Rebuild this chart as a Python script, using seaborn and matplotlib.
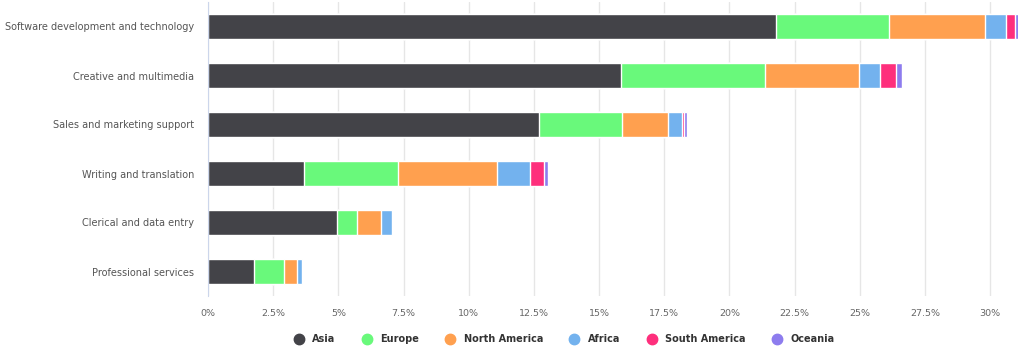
import numpy as np
import pandas as pd
import seaborn as sns
import matplotlib.pyplot as plt
from matplotlib.lines import Line2D
from matplotlib.ticker import FixedLocator

## data (share of workers, %)
categories = ["Software development and technology", "Creative and multimedia",
              "Sales and marketing support", "Writing and translation",
              "Clerical and data entry", "Professional services"]
regions = ["Asia", "Europe", "North America", "Africa", "South America", "Oceania"]
asia = [21.79, 15.83, 12.71, 3.68, 4.94, 1.76]
europe = [4.33, 5.52, 3.18, 3.61, 0.79, 1.17]
north_america = [3.68, 3.63, 1.74, 3.80, 0.92, 0.47]
africa = [0.81, 0.80, 0.54, 1.27, 0.40, 0.21]
south_america = [0.33, 0.62, 0.07, 0.53, 0.0, 0.0]
oceania = [0.15, 0.22, 0.12, 0.15, 0.0, 0.0]
colors = ["#434348", "#69f97b", "#ffa04f", "#73b2ee", "#fe2f7c", "#8d7cee"]

df = pd.DataFrame({"category": categories, "Asia": asia, "Europe": europe,
                   "North America": north_america, "Africa": africa,
                   "South America": south_america, "Oceania": oceania})
cum = df[regions].cumsum(axis=1)
cum["category"] = df["category"]

sns.set_style("white")
plt.rcParams['font.family'] = ['DejaVu Sans']

fig = plt.figure(figsize=(10.24, 3.51), dpi=100)
ax = fig.add_axes([208 / 1024, 55 / 351, 810 / 1024, 294 / 351])

## stacked bars: draw cumulative totals from the outermost layer inward
for reg, col in reversed(list(zip(regions, colors))):
    sns.barplot(data=cum, x=reg, y="category", order=categories, color=col,
                width=0.5, edgecolor="white", linewidth=1, saturation=1, ax=ax)

ax.set_xlim(0, 31.07)
ax.set_ylim(5.5, -0.5)
xt = np.arange(0, 30.01, 2.5)
ax.set_xticks(xt)
ax.set_xticklabels([f"{v:g}%" for v in xt], fontsize=6.8, color="#666666")
ax.tick_params(axis="x", length=0, pad=9)
ax.grid(axis="x", color="#e6e6e6", linewidth=1)
ax.set_axisbelow(True)
ax.set_xlabel("")
ax.set_ylabel("")

ax.set_yticks(range(len(categories)))
ax.set_yticklabels(categories, fontsize=7.0, color="#555555")
ax.tick_params(axis="y", which="major", length=0, pad=10)
ax.yaxis.set_minor_locator(FixedLocator(np.arange(-0.5, 6, 1)))
ax.tick_params(axis="y", which="minor", length=10, color="#ccd6eb", width=1)

for s in ["top", "right", "bottom"]:
    ax.spines[s].set_visible(False)
ax.spines["left"].set_color("#ccd6eb")

handles = [Line2D([], [], marker="o", linestyle="", markersize=7.5,
                  markerfacecolor=c, markeredgecolor=c) for c in colors]
fig.legend(handles, regions, loc="center", bbox_to_anchor=(0.551, 0.033), ncol=6,
           frameon=False, prop={"size": 7, "weight": "bold"}, labelcolor="#333333",
           handlelength=1.0, handletextpad=0.9, columnspacing=2.7)

fig.savefig("out.png", dpi=100)
